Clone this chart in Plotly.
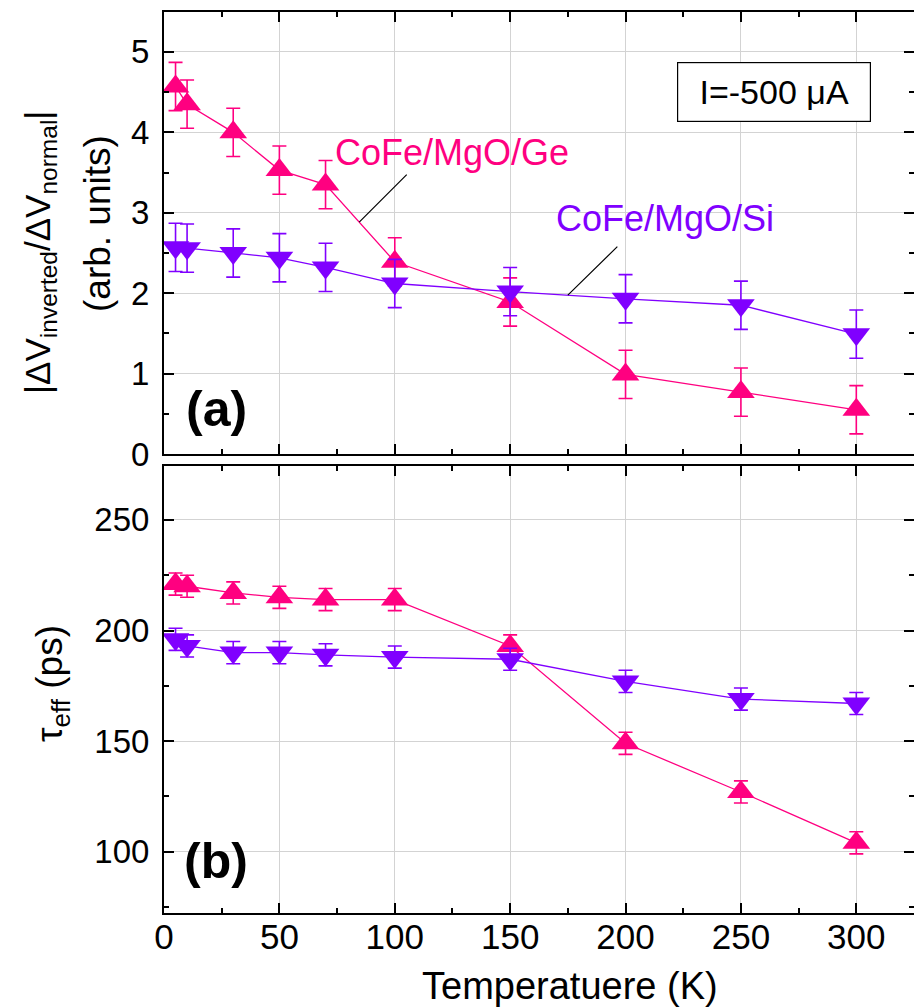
import numpy as np
import plotly.graph_objects as go

# ---- data ----
temperature = [5, 10, 30, 50, 70, 100, 150, 200, 250, 300]

ratio_ge = [4.57, 4.35, 4.00, 3.53, 3.35, 2.39, 1.89, 0.99, 0.77, 0.55]
ratio_ge_err = [0.30] * 10
ratio_si = [2.57, 2.56, 2.50, 2.44, 2.32, 2.12, 2.02, 1.93, 1.85, 1.49]
ratio_si_err = [0.30] * 10

tau_ge = [221.0, 220.0, 217.0, 215.0, 214.0, 214.0, 193.0, 149.0, 127.0, 104.0]
tau_ge_err = [5.0] * 10
tau_si = [196.0, 193.0, 190.0, 190.0, 189.0, 188.0, 187.0, 177.0, 169.0, 167.0]
tau_si_err = [5.0] * 10

x_ticks = [0, 50, 100, 150, 200, 250, 300]
top_y_ticks = [0, 1, 2, 3, 4, 5]
bottom_y_ticks = [100, 150, 200, 250]

PINK = "#FF0080"
PURPLE = "#8000FF"

NARROW = "Liberation Sans Narrow, Arial Narrow, Liberation Sans, Arial, sans-serif"
REG = "Liberation Sans, Arial, sans-serif"

fig = go.Figure()


def add_series(y, err, color, symbol, xa, ya):
    fig.add_trace(go.Scatter(
        x=temperature, y=y, mode="lines+markers",
        line=dict(color=color, width=1.3),
        marker=dict(symbol=symbol, size=24, color=color, line=dict(width=0)),
        error_y=dict(type="data", array=err, visible=True, color=color,
                     thickness=1.6, width=7),
        xaxis=xa, yaxis=ya, showlegend=False, cliponaxis=False,
    ))


add_series(ratio_ge, ratio_ge_err, PINK, "triangle-up", "x", "y")
add_series(ratio_si, ratio_si_err, PURPLE, "triangle-down", "x", "y")
add_series(tau_ge, tau_ge_err, PINK, "triangle-up", "x2", "y2")
add_series(tau_si, tau_si_err, PURPLE, "triangle-down", "x2", "y2")

H = 1008.0
top_dom = [(H - 454) / H, (H - 11.7) / H]
bot_dom = [(H - 913.2) / H, (H - 465.7) / H]

common_x = dict(
    range=[0, 325], domain=[0, 1], showline=True, linecolor="black", linewidth=2,
    mirror="allticks", ticks="inside", ticklen=10, tickwidth=2, tickcolor="black",
    tickvals=x_ticks, showgrid=True, gridcolor="#D3D3D3", gridwidth=1,
    zeroline=False,
    minor=dict(ticks="inside", ticklen=5, tickwidth=2, tickcolor="black",
               dtick=25, tick0=0, showgrid=False),
)
common_y = dict(
    showline=True, linecolor="black", linewidth=2, mirror="allticks",
    ticks="inside", ticklen=10, tickwidth=2, tickcolor="black",
    showgrid=True, gridcolor="#D3D3D3", gridwidth=1, zeroline=False,
    tickfont=dict(family=REG, size=33, color="black"), ticklabelstandoff=6,
)

fig.update_layout(
    width=914, height=1008,
    margin=dict(l=164, r=0, t=0, b=0, autoexpand=False),
    paper_bgcolor="white", plot_bgcolor="white",
    xaxis=dict(common_x, anchor="y", showticklabels=False),
    yaxis=dict(common_y, domain=top_dom, range=[0, 5.5], tickvals=top_y_ticks,
               anchor="x",
               minor=dict(ticks="inside", ticklen=5, tickwidth=2, tickcolor="black",
                          dtick=0.5, tick0=0, showgrid=False)),
    xaxis2=dict(common_x, anchor="y2", showticklabels=True,
                tickfont=dict(family=NARROW, size=35, color="black"),
                ticklabelstandoff=-8),
    yaxis2=dict(common_y, domain=bot_dom, range=[72.2, 274.5], tickvals=bottom_y_ticks,
                anchor="x2",
                minor=dict(ticks="inside", ticklen=5, tickwidth=2, tickcolor="black",
                           dtick=25, tick0=0, showgrid=False)),
)

ann = []
# axis titles
ann.append(dict(text="Temperatuere (K)", xref="paper", yref="paper",
                x=(570 - 164) / 750, y=(H - 986) / H, showarrow=False,
                font=dict(family=NARROW, size=38, color="black"),
                xanchor="center", yanchor="middle"))
ann.append(dict(text="|ΔV<sub>inverted</sub>/ΔV<sub>normal</sub>|",
                xref="paper", yref="paper", x=-124 / 750, y=(H - 253) / H,
                showarrow=False, textangle=-90,
                font=dict(family=NARROW, size=35, color="black"),
                xanchor="center", yanchor="middle"))
ann.append(dict(text="(arb. units)",
                xref="paper", yref="paper", x=-67 / 750, y=(H - 224) / H,
                showarrow=False, textangle=-90,
                font=dict(family=NARROW, size=37, color="black"),
                xanchor="center", yanchor="middle"))
ann.append(dict(text="τ<sub>eff</sub> (ps)",
                xref="paper", yref="paper", x=-112 / 750, y=(H - 683) / H,
                showarrow=False, textangle=-90,
                font=dict(family=NARROW, size=37, color="black"),
                xanchor="center", yanchor="middle"))
# panel labels
ann.append(dict(text="<b>(a)</b>", xref="paper", yref="paper",
                x=(216 - 164) / 750, y=(H - 409) / H, showarrow=False,
                font=dict(family=REG, size=50, color="black"),
                xanchor="center", yanchor="middle"))
ann.append(dict(text="<b>(b)</b>", xref="paper", yref="paper",
                x=(216 - 164) / 750, y=(H - 861) / H, showarrow=False,
                font=dict(family=REG, size=50, color="black"),
                xanchor="center", yanchor="middle"))
# current box
ann.append(dict(text="I=-500 μA", xref="paper", yref="paper",
                x=(774 - 164) / 750, y=(H - 92) / H, showarrow=False,
                font=dict(family=REG, size=34, color="black"),
                xanchor="center", yanchor="middle",
                bordercolor="black", borderwidth=1.2, bgcolor="white",
                width=190, height=56))
# series labels
ann.append(dict(text="CoFe/MgO/Ge", xref="x", yref="y", x=124.8, y=3.75,
                showarrow=False, font=dict(family=REG, size=36, color=PINK),
                xanchor="center", yanchor="middle"))
ann.append(dict(text="CoFe/MgO/Si", xref="x", yref="y", x=217.0, y=2.93,
                showarrow=False, font=dict(family=REG, size=36, color=PURPLE),
                xanchor="center", yanchor="middle"))
# pointer lines
xg = 84.6
ann.append(dict(text="", xref="x", yref="y", x=xg,
                y=float(np.interp(xg, temperature, ratio_ge)),
                showarrow=True, arrowhead=0, arrowwidth=1.2, arrowcolor="black",
                ax=49, ay=-49, standoff=0))
xs = 175.0
ann.append(dict(text="", xref="x", yref="y", x=xs,
                y=float(np.interp(xs, temperature, ratio_si)),
                showarrow=True, arrowhead=0, arrowwidth=1.2, arrowcolor="black",
                ax=51, ay=-50, standoff=0))

fig.update_layout(annotations=ann)
fig.write_html("out.html")
